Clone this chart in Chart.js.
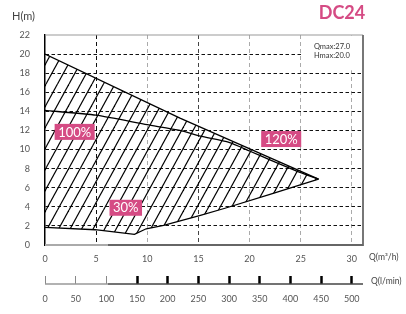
<!DOCTYPE html>
<html>
<head>
<meta charset="utf-8">
<script src="https://cdn.jsdelivr.net/npm/chart.js@4"></script>
<style>
html, body { margin: 0; padding: 0; background: #fff; }
</style>
</head>
<body>
<canvas id="chart" width="406" height="314"></canvas>
<script>
// curves: flow Q (m3/h) and head H (m)
const topQ = [0, 13.2, 26.75];
const topH = [20.0, 13.3, 6.9];
const midQ = [0, 5, 10, 13.2, 15.2, 18, 20, 22, 24.5, 26.75];
const midH = [14.1, 13.6, 12.6, 12.0, 11.4, 10.75, 9.85, 8.92, 7.8, 6.9];
const lowQ = [0, 4.9, 8.75, 9.9, 11.6, 15.2, 17.6, 22, 26.75];
const lowH = [1.85, 1.6, 1.12, 1.7, 2.05, 3.1, 3.85, 5.3, 6.9];

const qTicks = [0, 5, 10, 15, 20, 25, 30];
const hTicks = [0, 2, 4, 6, 8, 10, 12, 14, 16, 18, 20, 22];
const lminTicks = [0, 50, 100, 150, 200, 250, 300, 350, 400, 450, 500];

const tagText = ["100%", "30%", "120%"];
const tagQ = [2.9, 7.9, 23.1];
const tagH = [11.85, 3.9, 11.1];

const pink = "#d54b84";
const QMAX = 31.1;

function hatch() {
  const c = document.createElement("canvas");
  c.width = 23; c.height = 42;
  const g = c.getContext("2d");
  g.strokeStyle = "#000";
  g.lineWidth = 1.2;
  for (let x0 = -23; x0 <= 23; x0 += 11.5) {
    g.beginPath(); g.moveTo(x0, 42); g.lineTo(x0 + 23, 0); g.stroke();
  }
  return g.createPattern(c, "repeat");
}

const pts = (qs, hs) => qs.map((q, i) => ({ x: q, y: hs[i] }));
const area = pts(topQ, topH).concat(pts(lowQ, lowH).reverse());

const tickFont = { family: "Lato", size: 9 };

const decor = {
  id: "decor",
  beforeDatasetsDraw(chart) {
    const { ctx, scales: { x, y } } = chart;
    // blank box behind the Qmax / Hmax note
    const l = x.getPixelForValue(25) + 1.5;
    ctx.save();
    ctx.fillStyle = "#fff";
    ctx.fillRect(l, y.top + 0.5, x.right - l - 1, y.getPixelForValue(18.35) - y.top);
    ctx.restore();
  },
  afterDraw(chart) {
    const { ctx, scales: { x, y, x2 } } = chart;
    const line = (x1, y1, xb, yb, col, w) => {
      ctx.beginPath(); ctx.moveTo(x1, y1); ctx.lineTo(xb, yb);
      ctx.strokeStyle = col; ctx.lineWidth = w; ctx.stroke();
    };
    ctx.save();
    const split = x.getPixelForValue(6.15);
    line(x.left, y.top, x.right, y.top, "#999", 1);
    line(x.right, y.top, x.right, y.bottom + 1, "#777", 2);
    line(x.left, y.bottom, split, y.bottom, "#aaa", 2);
    line(split, y.bottom, x.right, y.bottom, "#666", 2);
    const by = x2.top + 8;
    line(x.left, by, split, by, "#999", 1.5);
    line(split, by, x.right, by, "#444", 1.5);

    // axis titles
    ctx.fillStyle = "#444";
    ctx.textBaseline = "middle";
    ctx.textAlign = "left";
    ctx.font = "8.5px Lato";
    ctx.fillText("Q(m\u00b3/h)", x.right + 6, y.bottom + 12);
    ctx.fillText("Q(l/min)", x.right + 8, by - 3);
    ctx.font = "11px Lato";
    ctx.textBaseline = "alphabetic";
    ctx.fillText("H(m)", 12, 20);

    ctx.fillStyle = pink;
    ctx.font = "bold 18px Lato";
    ctx.textAlign = "center";
    ctx.fillText("DC24", 342, 19);

    // Qmax / Hmax note
    ctx.fillStyle = "#333";
    ctx.font = "7.5px Lato";
    ctx.textAlign = "left";
    ctx.textBaseline = "middle";
    const nx = x.getPixelForValue(26.3);
    ctx.fillText("Qmax:27.0", nx, y.getPixelForValue(20.75));
    ctx.fillText("Hmax:20.0", nx, y.getPixelForValue(19.8));

    // speed tags
    ctx.font = "13px Lato";
    ctx.textAlign = "center";
    tagText.forEach((t, i) => {
      const cx = x.getPixelForValue(tagQ[i]);
      const cy = y.getPixelForValue(tagH[i]);
      const w = ctx.measureText(t).width + 7;
      ctx.fillStyle = pink;
      ctx.fillRect(cx - w / 2, cy - 8, w, 16);
      ctx.fillStyle = "#fff";
      ctx.fillText(t, cx, cy + 0.5);
    });
    ctx.restore();
  }
};

new Chart(document.getElementById("chart"), {
  type: "line",
  data: {
    datasets: [
      { data: area, fill: "shape", backgroundColor: hatch(), borderWidth: 0, pointRadius: 0 },
      { data: pts(topQ, topH), borderColor: "#000", borderWidth: 1.3, fill: false, pointRadius: 0 },
      { data: pts(midQ, midH), borderColor: "#000", borderWidth: 1.3, fill: false, pointRadius: 0, tension: 0.2 },
      { data: pts(lowQ, lowH), borderColor: "#000", borderWidth: 1.3, fill: false, pointRadius: 0 }
    ]
  },
  options: {
    responsive: false,
    animation: false,
    layout: { padding: { top: 35, right: 43, bottom: 4, left: 0 } },
    plugins: { legend: { display: false }, tooltip: { enabled: false } },
    scales: {
      x: {
        type: "linear", position: "bottom", weight: 1, min: 0, max: QMAX,
        afterBuildTicks: s => { s.ticks = qTicks.map(v => ({ value: v })); },
        afterFit: s => { s.height = 31; },
        grid: {
          drawTicks: false, lineWidth: 1,
          color: c => {
            const v = c.tick ? c.tick.value : -1;
            if (v === 0) return "rgba(0,0,0,0)";
            if (v === 5) return "#111";
            if (v === 15) return "#444";
            return "#aaa";
          }
        },
        border: { display: false, dash: [4, 3] },
        ticks: { padding: 9, color: "#555", font: tickFont }
      },
      x2: {
        type: "linear", position: "bottom", weight: 2, min: 0, max: QMAX * 50 / 3,
        afterBuildTicks: s => { s.ticks = lminTicks.map(v => ({ value: v })); },
        afterFit: s => { s.height = 34; },
        grid: {
          drawOnChartArea: false, drawTicks: true, tickLength: 8,
          tickWidth: c => (c.tick && c.tick.value >= 150 ? 2.5 : 1),
          tickColor: c => (c.tick && c.tick.value >= 150 ? "#000" : "#888")
        },
        border: { display: false },
        ticks: { padding: 10, color: "#555", font: tickFont }
      },
      y: {
        min: 0, max: 22,
        afterBuildTicks: s => { s.ticks = hTicks.map(v => ({ value: v })); },
        afterFit: s => { s.width = 45; },
        grid: {
          drawTicks: false, lineWidth: 1,
          color: c => {
            const v = c.tick ? c.tick.value : 0;
            return (v === 0 || v === 22) ? "rgba(0,0,0,0)" : "#111";
          }
        },
        border: { display: true, color: "#000", width: 1.5, dash: [3.5, 2.5] },
        ticks: { padding: 15, color: "#555", font: tickFont }
      }
    }
  },
  plugins: [decor]
});
</script>
</body>
</html>
